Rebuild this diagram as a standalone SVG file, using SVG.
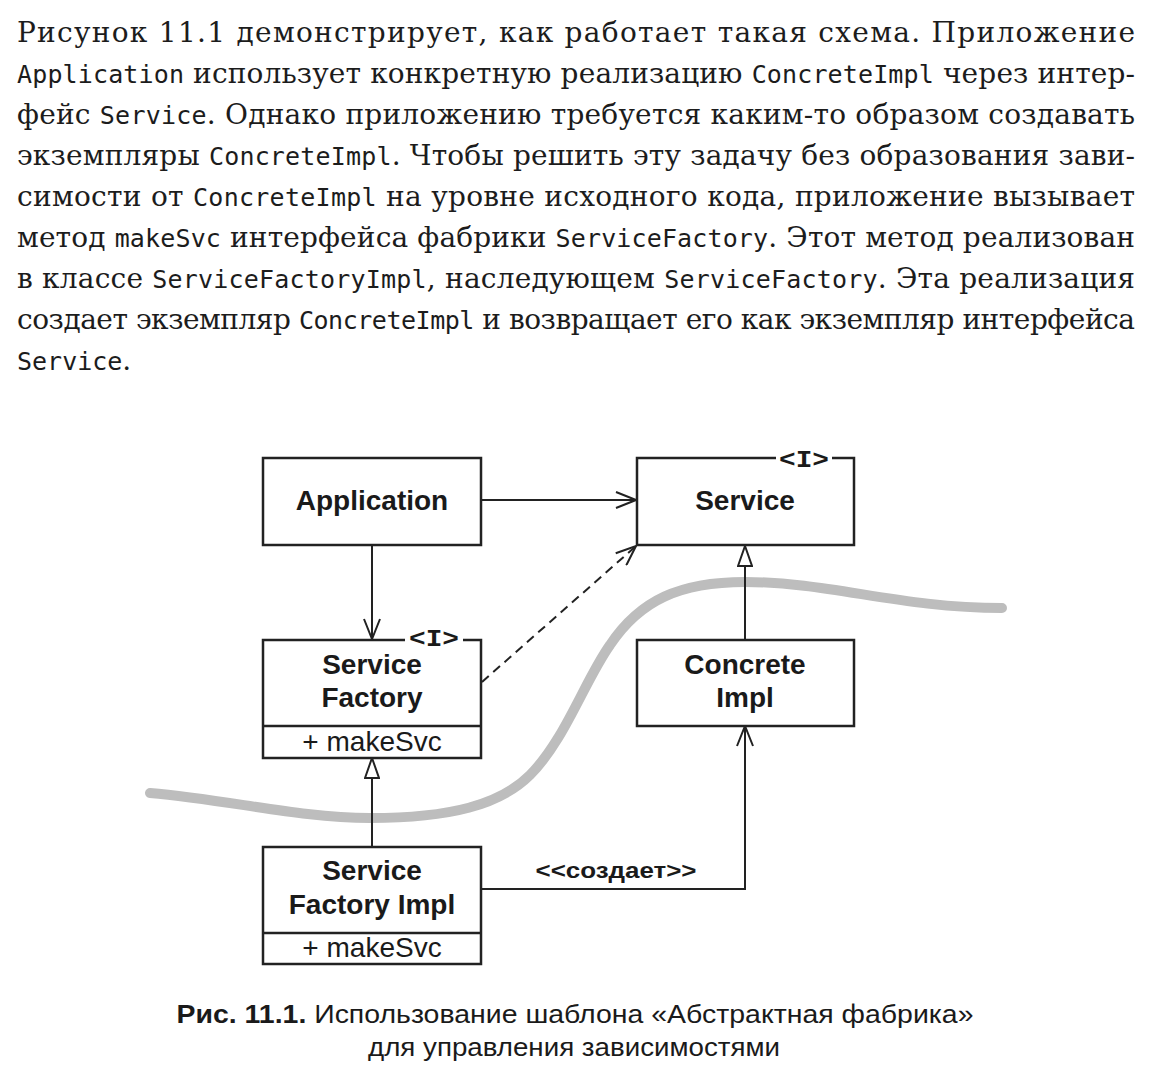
<svg xmlns="http://www.w3.org/2000/svg" width="1160" height="1092" viewBox="0 0 1160 1092">
<style>
  .p { font-family: "DejaVu Serif", "Liberation Serif", serif; font-size: 28px; fill: #1c1c1c; }
  .m { font-family: "DejaVu Sans Mono", "Liberation Mono", monospace; font-size: 25px; }
  .box { fill: #fff; stroke: #222; stroke-width: 2.5; }
  .div { stroke: #222; stroke-width: 2.5; }
  .t { font-family: "Liberation Sans", Arial, sans-serif; font-size: 28px; font-weight: bold; fill: #1a1a1a; text-anchor: middle; }
  .op { font-family: "Liberation Sans", Arial, sans-serif; font-size: 28px; fill: #1a1a1a; text-anchor: middle; }
  .iface { font-family: "Liberation Mono", "DejaVu Sans Mono", monospace; font-size: 24px; font-weight: bold; fill: #1a1a1a; text-anchor: middle; }
  .ln { fill: none; stroke: #222; stroke-width: 2; }
  .cap { font-family: "Liberation Sans", Arial, sans-serif; font-size: 26px; fill: #1a1a1a; text-anchor: middle; }
</style>
<defs>
  <marker id="open" markerUnits="userSpaceOnUse" viewBox="0 0 22 18" markerWidth="22" markerHeight="18" refX="21" refY="9" orient="auto">
    <path d="M1,1 L21,9 L1,17" fill="none" stroke="#222" stroke-width="2"/>
  </marker>
  <marker id="tri" markerUnits="userSpaceOnUse" viewBox="0 0 22 16" markerWidth="22" markerHeight="16" refX="21" refY="8" orient="auto">
    <path d="M1,1 L21,8 L1,15 Z" fill="#fff" stroke="#222" stroke-width="2"/>
  </marker>
</defs>
<rect width="1160" height="1092" fill="#fff"/>

<g id="paragraph">
  <text class="p" x="17" y="42" textLength="1118" lengthAdjust="spacing">Рисунок 11.1 демонстрирует, как работает такая схема. Приложение</text>
  <text class="p" x="17" y="83" textLength="1118" lengthAdjust="spacing"><tspan class="m">Application</tspan> использует конкретную реализацию <tspan class="m">ConcreteImpl</tspan> через интер-</text>
  <text class="p" x="17" y="124" textLength="1118" lengthAdjust="spacing">фейс <tspan class="m">Service</tspan>. Однако приложению требуется каким-то образом создавать</text>
  <text class="p" x="17" y="165" textLength="1118" lengthAdjust="spacing">экземпляры <tspan class="m">ConcreteImpl</tspan>. Чтобы решить эту задачу без образования зави-</text>
  <text class="p" x="17" y="206" textLength="1118" lengthAdjust="spacing">симости от <tspan class="m">ConcreteImpl</tspan> на уровне исходного кода, приложение вызывает</text>
  <text class="p" x="17" y="247" textLength="1118" lengthAdjust="spacing">метод <tspan class="m">makeSvc</tspan> интерфейса фабрики <tspan class="m">ServiceFactory</tspan>. Этот метод реализован</text>
  <text class="p" x="17" y="288" textLength="1118" lengthAdjust="spacing">в классе <tspan class="m">ServiceFactoryImpl</tspan>, наследующем <tspan class="m">ServiceFactory</tspan>. Эта реализация</text>
  <text class="p" x="17" y="329" textLength="1118" lengthAdjust="spacing">создает экземпляр <tspan class="m">ConcreteImpl</tspan> и возвращает его как экземпляр интерфейса</text>
  <text class="p" x="17" y="370"><tspan class="m">Service</tspan>.</text>
</g>

<path id="boundary" d="M150,793 C230,800 300,818 370,818 C450,818 500,805 530,775 C565,740 585,680 610,645 C640,600 680,582 745,582 C830,582 900,608 1002,608" fill="none" stroke="#bdbdbd" stroke-width="10" stroke-linecap="round"/>

<g id="connectors">
  <path class="ln" d="M481,500 H636" marker-end="url(#open)"/>
  <path class="ln" d="M372,545 V639" marker-end="url(#open)"/>
  <path class="ln" d="M482,682 L636,546" stroke-dasharray="9,6" marker-end="url(#open)"/>
  <path class="ln" d="M745,639 V546" marker-end="url(#tri)"/>
  <path class="ln" d="M372,846 V758" marker-end="url(#tri)"/>
  <path class="ln" d="M481,889 H745 V726" marker-end="url(#open)"/>
  <text x="616" y="878" font-family="Liberation Sans, Arial, sans-serif" font-size="22" font-weight="bold" fill="#1a1a1a" text-anchor="middle" textLength="161" lengthAdjust="spacingAndGlyphs">&lt;&lt;создает&gt;&gt;</text>
</g>

<g id="application">
  <rect class="box" x="263" y="458" width="218" height="87"/>
  <text class="t" x="372" y="510">Application</text>
</g>

<g id="service">
  <rect class="box" x="637" y="458" width="217" height="87"/>
  <rect x="776" y="450" width="56" height="17" fill="#fff"/>
  <text class="iface" x="804" y="467" textLength="50" lengthAdjust="spacingAndGlyphs">&lt;I&gt;</text>
  <text class="t" x="745" y="510">Service</text>
</g>

<g id="service-factory">
  <rect class="box" x="263" y="640" width="218" height="118"/>
  <line class="div" x1="263" y1="726" x2="481" y2="726"/>
  <rect x="405" y="631" width="58" height="15" fill="#fff"/>
  <text class="iface" x="434" y="646" textLength="50" lengthAdjust="spacingAndGlyphs">&lt;I&gt;</text>
  <text class="t" x="372" y="674">Service</text>
  <text class="t" x="372" y="707">Factory</text>
  <text class="op" x="372" y="751">+ makeSvc</text>
</g>

<g id="concrete-impl">
  <rect class="box" x="637" y="640" width="217" height="86"/>
  <text class="t" x="745" y="674">Concrete</text>
  <text class="t" x="745" y="707">Impl</text>
</g>

<g id="service-factory-impl">
  <rect class="box" x="263" y="847" width="218" height="117"/>
  <line class="div" x1="263" y1="933" x2="481" y2="933"/>
  <text class="t" x="372" y="880">Service</text>
  <text class="t" x="372" y="914">Factory Impl</text>
  <text class="op" x="372" y="957">+ makeSvc</text>
</g>

<g id="caption">
  <text class="cap" x="575" y="1023" textLength="797" lengthAdjust="spacingAndGlyphs"><tspan font-weight="bold">Рис. 11.1.</tspan> Использование шаблона «Абстрактная фабрика»</text>
  <text class="cap" x="574" y="1056" textLength="412" lengthAdjust="spacingAndGlyphs">для управления зависимостями</text>
</g>
</svg>
